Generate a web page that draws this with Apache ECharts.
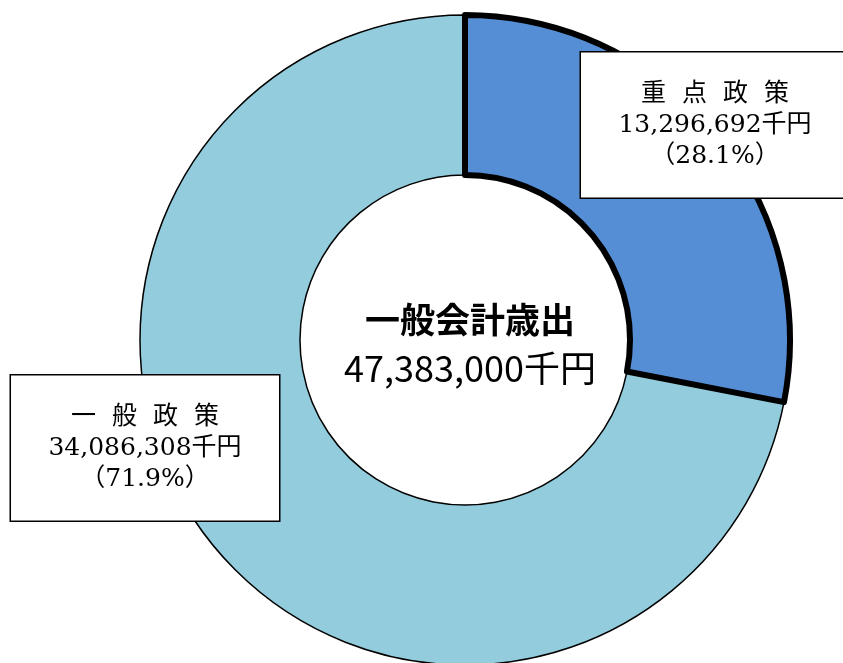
<!DOCTYPE html>
<html>
<head>
<meta charset="utf-8">
<script src="https://cdn.jsdelivr.net/npm/echarts@6/dist/echarts.min.js"></script>
<style>
  html, body { margin: 0; padding: 0; background: #fff; }
  #chart { width: 843px; height: 663px; }
</style>
</head>
<body>
<div id="chart"></div>
<script>
// 一般会計歳出の内訳（千円）
const names = ["一般政策", "重点政策"];
const values = [34086308, 13296692];
const shares = ["71.9%", "28.1%"];
const colors = ["#93cddd", "#558ed5"];
const totalLabel = "47,383,000千円";

// label box centres (px)
const boxPos = [
  { x: 145, y: 448 },
  { x: 715, y: 125 },
];

const chart = echarts.init(document.getElementById("chart"));

const serif = "DejaVu Serif, Noto Sans CJK JP";

const option = {
  animation: false,
  title: {
    text: "{a|一般会計歳出}\n{b|" + totalLabel + "}",
    left: 465,
    top: 339,
    textAlign: "center",
    textVerticalAlign: "middle",
    textStyle: {
      rich: {
        a: {
          fontFamily: "Noto Sans CJK JP",
          fontSize: 35,
          fontWeight: "bold",
          color: "#000",
          lineHeight: 48,
        },
        b: {
          fontFamily: "Noto Sans CJK JP",
          fontSize: 36,
          fontWeight: "normal",
          color: "#000",
          lineHeight: 48,
        },
      },
    },
  },
  series: [
    {
      type: "pie",
      center: [465, 340],
      radius: [165, 325],
      startAngle: 90,
      clockwise: false,
      silent: true,
      data: names.map((n, i) => ({
        name: n,
        value: values[i],
        itemStyle: {
          color: colors[i],
          borderColor: "#000",
          borderWidth: i === 1 ? 6 : 1.5,
        },
      })),
      label: {
        show: true,
        position: "outside",
        formatter: (p) =>
          p.name.split("").map((c) => "{t|" + c + "}").join("{s|　}") +
          "\n{t|" + p.value.toLocaleString("en-US") + "千円}\n{t|（" + shares[p.dataIndex] + "）}",
        color: "#000",
        align: "center",
        overflow: "none",
        width: 268,
        backgroundColor: "#fff",
        borderColor: "#000",
        borderWidth: 1.5,
        padding: [26, 0],
        rich: {
          t: { fontFamily: serif, fontSize: 25, lineHeight: 31, color: "#000" },
          s: { fontFamily: serif, fontSize: 16, lineHeight: 31 },
        },
      },
      labelLine: { show: false },
      labelLayout: (p) => ({
        x: boxPos[p.dataIndex].x,
        y: boxPos[p.dataIndex].y,
        align: "center",
        verticalAlign: "middle",
      }),
    },
  ],
};

chart.setOption(option);
</script>
</body>
</html>
